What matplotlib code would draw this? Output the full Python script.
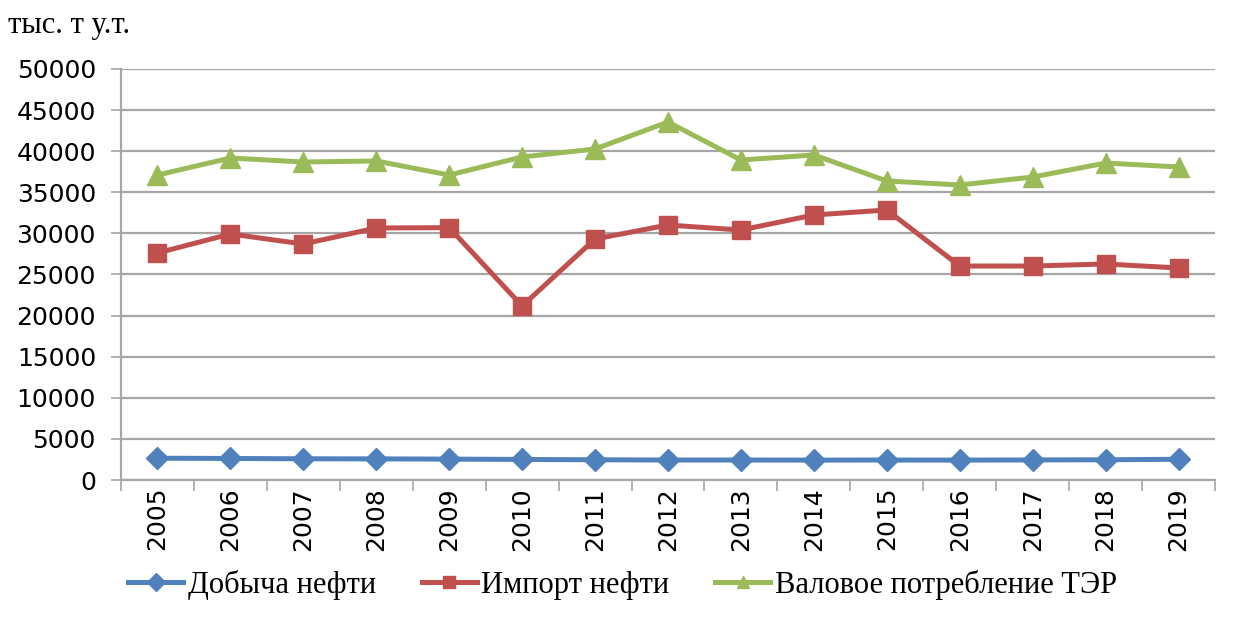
import matplotlib
matplotlib.use("Agg")
import matplotlib.pyplot as plt
from matplotlib.ticker import FixedLocator, MultipleLocator

years = ["2005", "2006", "2007", "2008", "2009", "2010", "2011", "2012",
         "2013", "2014", "2015", "2016", "2017", "2018", "2019"]
oil_production = [2650, 2620, 2580, 2570, 2540, 2500, 2460, 2430,
                  2430, 2420, 2430, 2420, 2440, 2460, 2520]
oil_import = [27620, 29930, 28710, 30660, 30700, 21170, 29320, 31020,
              30410, 32240, 32850, 26030, 26030, 26280, 25790]
gross_consumption = [37100, 39170, 38690, 38810, 37100, 39300, 40270, 43550,
                     38930, 39540, 36380, 35890, 36860, 38560, 38080]
series_labels = ["Добыча нефти", "Импорт нефти", "Валовое потребление ТЭР"]
y_unit = "тыс. т у.т."

fig = plt.figure(figsize=(12.4, 6.33), dpi=100)
ax = fig.add_axes([121/1240, 1-480/633, (1215-121)/1240, (480-69)/633])

x = list(range(len(years)))
grid_c = "#A6A6A6"
ax.plot(x, oil_production, color="#4F81BD", lw=3.6, marker="D", ms=11,
        mec="#4F81BD", label=series_labels[0], zorder=3)
ax.plot(x, oil_import, color="#C0504D", lw=3.6, marker="s", ms=13,
        mec="#C0504D", label=series_labels[1], zorder=3)
ax.plot(x, gross_consumption, color="#9BBB59", lw=3.6, marker="^", ms=14,
        mec="#9BBB59", label=series_labels[2], zorder=3)

ax.set_xlim(-0.5, len(years)-0.5)
ax.set_ylim(0, 50000)
ax.yaxis.set_major_locator(MultipleLocator(5000))
ax.grid(axis="y", color=grid_c, lw=1.6)
ax.set_axisbelow(True)

ax.set_xticks(x)
ax.set_xticklabels(years, rotation=90, fontsize=18, family="DejaVu Sans")
ax.xaxis.set_minor_locator(FixedLocator([i-0.5 for i in range(len(years)+1)]))
ax.tick_params(axis="x", which="major", length=0, pad=5)
ax.tick_params(axis="x", which="minor", length=8, width=1.2, color=grid_c)
ax.tick_params(axis="y", which="major", length=7, width=1.2, color=grid_c,
               labelsize=18, pad=11)
for lab in ax.get_yticklabels():
    lab.set_family("DejaVu Sans")

for s in ["top", "right"]:
    ax.spines[s].set_visible(False)
for s in ["left", "bottom"]:
    ax.spines[s].set_color(grid_c)
    ax.spines[s].set_linewidth(1.6)

fig.text(8/1240, 1-25/633, y_unit, fontsize=22, family="Liberation Serif",
         va="center", ha="left")

leg = fig.legend(loc="center", bbox_to_anchor=(0.502, 1-585/633), ncol=3,
                 frameon=False, handlelength=1.8, columnspacing=1.5,
                 handletextpad=0.15,
                 prop={"family": "Liberation Serif", "size": 22})
for h in leg.legend_handles:
    h.set_markersize(9)

fig.savefig("out.png", dpi=100)
